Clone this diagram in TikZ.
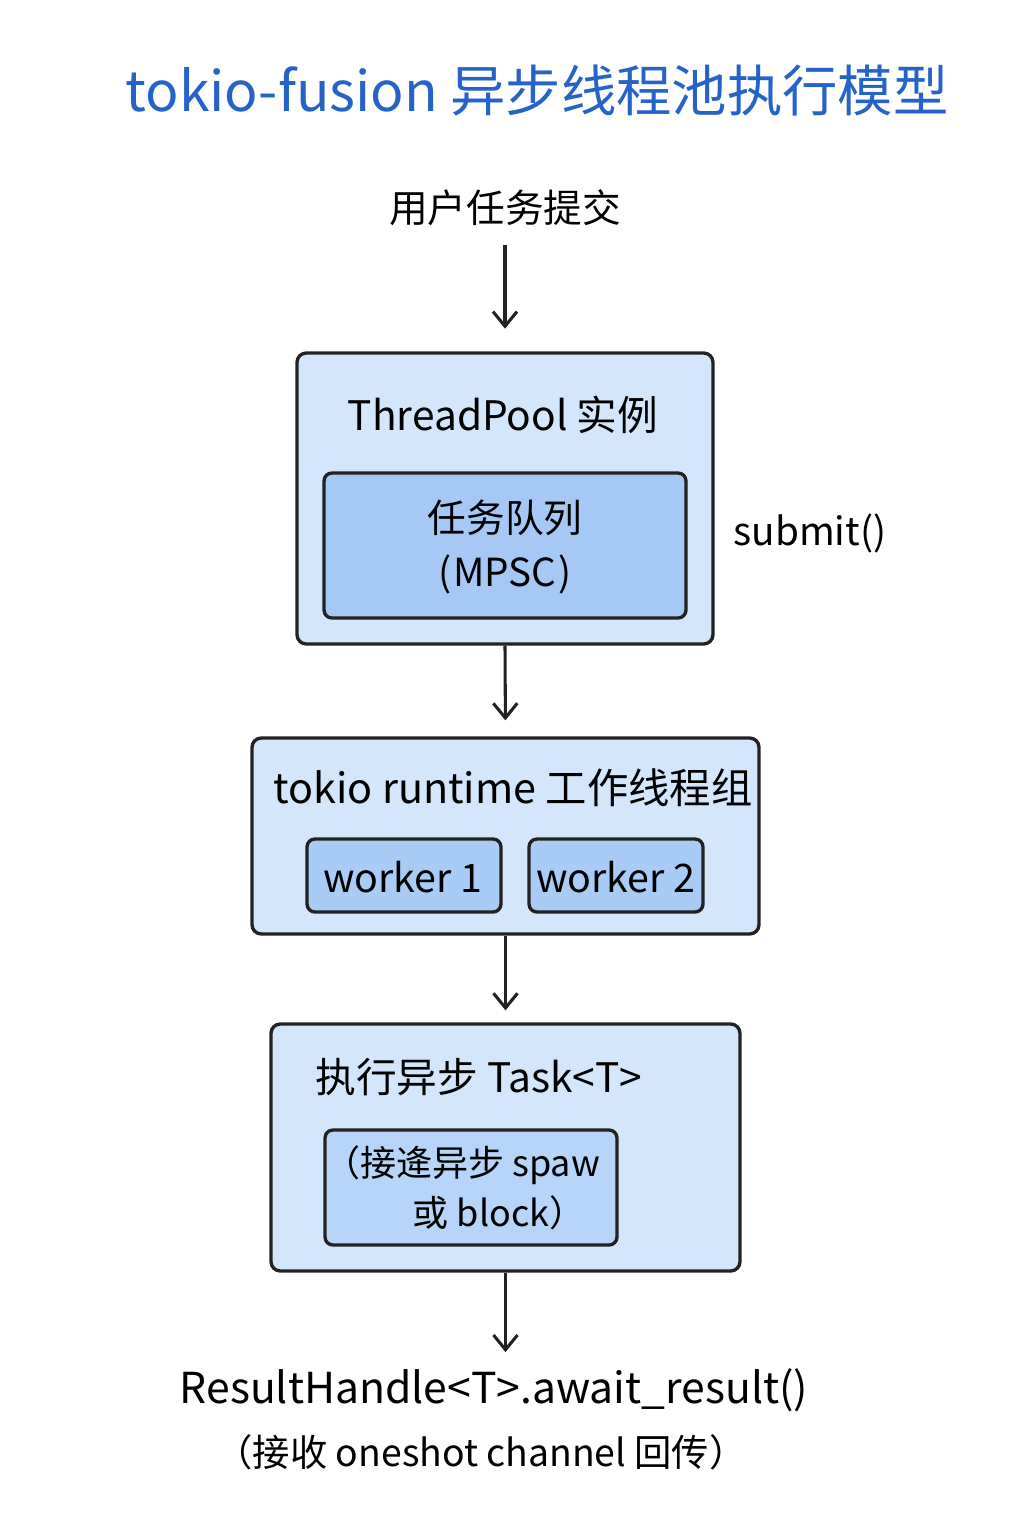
\documentclass[tikz,border=0pt]{standalone}
\usepackage{fontspec}
\setmainfont{Noto Sans CJK SC}
\usetikzlibrary{arrows.meta}
\definecolor{outerfill}{HTML}{D4E6FC}
\definecolor{innerfill}{HTML}{A5C8F4}
\definecolor{inner3fill}{HTML}{B7D5F8}
\definecolor{workerfill}{HTML}{A8CCF5}
\definecolor{titleblue}{HTML}{2563C9}
\definecolor{edge}{HTML}{222222}
\tikzset{
  outerbox/.style={draw=edge, line width=2.5pt, fill=outerfill, rounded corners=7pt, inner sep=0pt},
  innerbox/.style={draw=edge, line width=2.5pt, fill=innerfill, rounded corners=6pt, inner sep=0pt},
  lbl/.style={inner sep=0pt, text=black, font=\fontsize{29pt}{35pt}\selectfont, align=center},
  arr/.style={draw=edge, line width=2.3pt, -{Straight Barb[length=11pt,width=18pt]}},
}
\begin{document}
\begin{tikzpicture}[x=0.75pt,y=-0.75pt]
\useasboundingbox (0,0) rectangle (1024,1536);
\fill[white] (0,0) rectangle (1024,1536);

\node[inner sep=0pt, text=titleblue, font=\fontsize{41.5pt}{48pt}\selectfont] (title) at (537,90) {tokio-fusion 异步线程池执行模型};

\node[lbl] (user) at (505,208) {用户任务提交};

\node[outerbox, minimum width=312pt, minimum height=218.25pt] (b1) at (505,498.5) {};
\node[lbl, font=\fontsize{30.5pt}{36pt}\selectfont] (b1t) at (503,415) {ThreadPool 实例};
\node[innerbox, minimum width=271.5pt, minimum height=108.75pt] (q) at (505,545.5) {};
\node[lbl, font=\fontsize{29pt}{40pt}\selectfont] (qt) at (505,547) {任务队列\\(\kern1.5pt MPSC\kern1.5pt)};

\node[lbl] (submit) at (810,533) {submit()};

\node[outerbox, minimum width=380.25pt, minimum height=147pt] (b2) at (505.5,836) {};
\node[lbl, font=\fontsize{31pt}{36pt}\selectfont] (b2t) at (513,788) {tokio runtime 工作线程组};
\node[innerbox, fill=workerfill, minimum width=145.5pt, minimum height=54.75pt] (w1) at (404,875.5) {};
\node[lbl, font=\fontsize{29.5pt}{36pt}\selectfont] (w1t) at (403,877) {worker 1};
\node[innerbox, fill=workerfill, minimum width=130.5pt, minimum height=54.75pt] (w2) at (616,875.5) {};
\node[lbl, font=\fontsize{29.5pt}{36pt}\selectfont] (w2t) at (616,877) {worker 2};

\node[outerbox, minimum width=351.75pt, minimum height=185.25pt] (b3) at (505.5,1147.5) {};
\node[lbl, font=\fontsize{30.5pt}{36pt}\selectfont] (b3t) at (479,1077) {执行异步 Task<T>};
\node[innerbox, fill=inner3fill, minimum width=219pt, minimum height=86.25pt] (t) at (471,1187.5) {};
\node[lbl, font=\fontsize{27pt}{36pt}\selectfont] (tt1) at (462,1165) {（接逄异步 spaw};
\node[lbl, font=\fontsize{27pt}{36pt}\selectfont] (tt2) at (499,1213) {或 block）};

\node[lbl, font=\fontsize{32pt}{37pt}\selectfont] (r1) at (494,1390) {ResultHandle<T>.await\_result()};
\node[lbl, font=\fontsize{28pt}{33pt}\selectfont] (r2) at (481,1452) {（接收 oneshot channel 回传）};

\draw[arr, shorten <=14pt, shorten >=17pt] (user.south) -- (b1.north);
\draw[arr, shorten >=12pt] (b1.south) -- (b2.north);
\draw[arr, shorten >=9pt] (b2.south) -- (b3.north);
\draw[arr, shorten >=12pt] (b3.south) -- (b3.south |- r1.north);
\end{tikzpicture}
\end{document}
